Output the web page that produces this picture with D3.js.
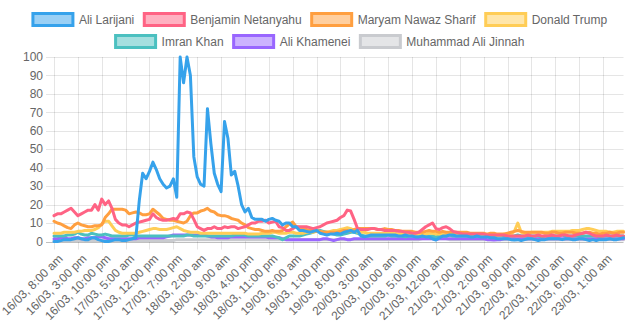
<!DOCTYPE html>
<html><head><meta charset="utf-8">
<script src="https://cdn.jsdelivr.net/npm/d3@7"></script>
<style>html,body{margin:0;padding:0;background:#fff}svg{display:block}</style>
</head><body><div id="chart"></div>
<script>
const seriesNames = ["Ali Larijani","Benjamin Netanyahu","Maryam Nawaz Sharif","Donald Trump","Imran Khan","Ali Khamenei","Muhammad Ali Jinnah"];
const seriesColors = ["rgb(54,162,235)","rgb(255,99,132)","rgb(255,159,64)","rgb(255,205,86)","rgb(75,192,192)","rgb(153,102,255)","rgb(201,203,207)"];
const seriesFills = ["rgba(54,162,235,0.5)","rgba(255,99,132,0.5)","rgba(255,159,64,0.5)","rgba(255,205,86,0.5)","rgba(75,192,192,0.5)","rgba(153,102,255,0.5)","rgba(201,203,207,0.5)"];

const tickLabels = ["16/03, 8:00 am","16/03, 3:00 pm","16/03, 10:00 pm","17/03, 5:00 am","17/03, 12:00 pm","17/03, 7:00 pm","18/03, 2:00 am","18/03, 9:00 am","18/03, 4:00 pm","18/03, 11:00 pm","19/03, 6:00 am","19/03, 1:00 pm","19/03, 8:00 pm","20/03, 3:00 am","20/03, 10:00 am","20/03, 5:00 pm","21/03, 12:00 am","21/03, 7:00 am","21/03, 2:00 pm","21/03, 9:00 pm","22/03, 4:00 am","22/03, 11:00 am","22/03, 6:00 pm","23/03, 1:00 am"];
const yTicks = [0,10,20,30,40,50,60,70,80,90,100];

const larijani = [
0,0,0.5,1,1,1,1.5,2,1.5,1,1,2,
2,1,0.5,0,0,0.5,1,1,0.5,0.5,1,1.5,
2,22,37,34,38,43,39,34,31,29,30,34,
24,100,86,100,90,46,35,31,30,72,53,37,
31,27,65,56,36,38,30,20,16,18,13,12,
12,12,11,12,12.5,11.5,11,9,10,10,8,8,
6,6,5.5,5,5.5,6,4.5,4,3.5,4,4,4.5,
4,5,5.5,6,5,6,3,2.5,3,3.5,3.5,3.5,
3.5,3.5,3.5,3.5,3.5,3,3,3.5,3,3,2.5,2.5,
3,2.5,2.5,1.5,0.8,2,3,3,3.5,3.5,3,3,
3,3,2.5,2.5,3,2.5,2.5,2.5,2,2,1.5,1.5,
1.5,1.5,1,0.8,1,0.5,1,1.5,1.5,1,0.5,1,
1,1.5,1.5,1.5,1.5,1,1.5,1.5,1,1,1.5,1.5,
1,0.5,1,0.5,1,1,1,1.5,1,1,1.5,2];

const netanyahu = [
14,15,15,16,17,18,16,14,15,16,17,17,
20,17,23,20,22,18,12,10,9,9,8,9,
10,10.5,11,11.5,12,15,13,12,11.5,11.5,12,12.5,
12,15,15,16,15.5,12,8,7,6,7,7,8,
7,7,8,7.5,8,8,7,7.5,8,9,10,10,
11,11,11.5,10,10.5,11,8,7.5,6,6,7,8,
8,8,8,7.5,7,7.5,8,9,10,10.5,11,11.5,
13,14,17,16.5,12,7,6.5,6.5,6.5,7,7,6.5,
6.5,6,6,6,6,5.5,5.5,5,5,4.5,4.5,5,
6.5,8,9,10,7,6.5,7.5,8,7,5.5,5,4.5,
4,4,4,4,4,4,4,3.5,3.5,3.5,3.5,3.5,
3.5,3,3,3,3,3,3,3.5,3,3,3.5,3,
3,3,3.5,3,3,3.5,3.5,3,3,3.5,4,4.5,
5,4.5,3.5,3,3,3,3.5,3,3,3.5,3,3];

const sharif = [
11,10,9.5,8.5,7.5,7,9,10,9,8.5,8,8,
8.5,8.5,9,13,15,17.5,17.5,17.5,17.5,17,15,15.5,
16,15.5,14.5,14.5,15,17.5,16,14.5,12.5,12,11.5,11.5,
11,10.5,10,11,14,15.5,15.5,16.5,17,18,16.5,16,
14.5,14,14,13.5,12.5,12,11.5,10,9,7.5,7,6.5,
6.5,6,5.5,5.5,6,5.5,5.5,6,8,9.5,10.5,8,
7.5,7,6.5,6,6,5.5,5.5,5,5,5,5,5,
5.5,6,6,5.5,6.5,7,7,7,7,7,7,6.5,
6.5,7,6.5,6.5,6,6,5.5,5.5,5.5,5.5,5,5,
5,5.5,6,5.5,5.5,5,5.5,5,5,5,5,5,
5,5,4.5,4.5,4.5,4.5,4.5,4,4.5,4.5,4,4,
4,4.5,5,5.5,6,5.5,5,5,5,5,5,5,
4.5,4.5,5,5,4.5,4.5,5,5,5,4.5,4.5,4.5,
5,5,4.5,4.5,4,4.5,4.5,5,4.5,4.5,5,5];

const trump = [
4.5,4.5,4.5,5,5,5,5,5.5,5.5,6,6,6,
6.5,7.5,9.5,11,11,8.5,6,5,4.5,4.5,4.5,4.5,
4.5,5,5.5,6,6.5,7,7,6.5,6.5,6.5,7,7.5,
8,7,6,5.5,5,5,5,4.5,4.5,4.5,4.5,4.5,
4.5,4.5,4.5,4.5,4.5,4.5,4.5,4.5,4.5,4,4,4,
4,4.5,4.5,4.5,5,5,4.5,4.5,4.5,5,5,4.5,
4.5,4.5,5,5,5,5.5,5.5,5,5,5.5,6,6,
6.5,7,7.5,7,6,5,5,5,4.5,4.5,4.5,4.5,
4.5,4.5,4.5,4.5,4.5,4,4,4,4,4,4,4,
4,4,4.5,4.5,4,4,4,4,4,4,4,4,
4,4,4,4,4,4,3.5,3.5,3.5,3.5,3.5,3.5,
4,4,4,5.5,10,5,4.5,4.5,5,5,5,5,
5,5,5.5,5.5,5.5,5.5,5.5,5.5,6,6,6,6.5,
7,7,6.5,6,5.5,5.5,5.5,5,5,5.5,5.5,5.5];

const khan = [
3,3,3,3,3.5,3.5,4,5,4,3.5,3.5,4.5,
4,3.5,3.5,4,3.5,3,3,3,3,3,3.5,3.5,
3,3,3,3,3,3,3,3,3,3,3,3,
3,3,3,3.5,3.5,3,3,3,3,3,3,3,
3,3,3,3,3,3.5,3.5,3.5,3.5,3,3,3,
3,3,3,3,3,2.5,2,1,2,3,3,3,
3,3.5,4,4.5,5,6,6,5.5,5,4.5,4,3.5,
3.5,4,4.5,5,5,4.5,3.5,3,3,3,3,3,
3,3,3.5,3,3,3,3,2.5,3,3,3,3,
3,3,3,3,2.5,3,3,3,3.5,3,3,3,
3,3,3,2.5,3,3,3,3,2.5,2.5,3,3,
3,3,3,3,3.5,3,3,3,3,3,3,2.5,
3,3,3,3,3,3.5,3,3,3,3,3,3,
3,3,3,3,2.5,3,3,3,3,3,3,3];

const khamenei = [
1.5,1.5,2,2,1.5,1.5,2,2,1.5,1.5,2,2,
2,2.5,2.5,2,1.5,1.5,1.5,1.5,1.5,1.5,1.5,1.5,
1.5,2,2,2,2,2,2,2,2,2.5,3,3.5,
3.5,3.5,3.5,3.5,3.5,3.5,3.5,3.5,3.5,3,2.5,2.5,
2,2,2,2,2.5,2.5,2.5,2.5,2.5,2.5,2.5,2.5,
2.5,2.5,2.5,2,2,2,2,1.5,1,1,1,1,
1,1,1,1,1,1,1,1.5,1.5,1,0.5,1,
1.5,1.5,1,1,1.5,1.5,1.5,1.5,1.5,1.5,1.5,1.5,
1.5,1.5,1.5,1.5,1.5,1.5,1.5,1.5,1.5,1.5,1.5,1.5,
1.5,1.5,1.5,1.5,1,1.5,1.5,1.5,1.5,1.5,1.5,1.5,
1.5,1.5,1.5,1.5,1.5,1.5,1.5,1,1,0.8,1,1,
1.5,1.5,1.5,1.5,1.5,1.5,1.5,1.5,1.5,1.5,1.5,1.5,
1.5,1.5,1.5,1.5,1.5,1.5,1.5,1.5,1.5,1.5,1.5,1.5,
1.5,1.5,1.5,1.5,1.5,1.5,1.5,1.5,1.5,1.5,1.5,1.5];

const jinnah = [
0.5,0.5,0.5,0.5,0.5,0.5,0.5,0.5,0.5,0.5,0.5,0.5,
0.5,0.5,0.5,0.5,0.5,0.5,0.5,0.5,0.5,0.5,0.5,0.5,
0.5,0.5,0.5,0.5,0.5,0.5,0.5,0.5,0.5,0.5,0.5,0.5,
1,1,1,1,1,1,1,1,1,1,1,1,
1,1,1,1,1,1,1,1,1,1,1,1,
1,1,1,1,1,1,1,1,1,1,1,1,
1,1,1,1,1,1,1,1,1,1,1,1,
1,1,1,1,1,1,1,1,1,1,1,1,
1,1,1,1,1,1,1,1,1,1,1,1,
1.5,1.5,1.5,1.5,1.5,1.5,1.5,1.5,1,1,1,1,
1,1,1,1,1,1,1,1,1,1,1,1,
1,1,1,1,1,1,1,1,1,1,1,1,
1,1,1,1,1,1,1,1,1,1,1,1,
1,1,1,1,1,1,1,1,1,1,1,1];

const seriesValues = [larijani, netanyahu, sharif, trump, khan, khamenei, jinnah];
const categories = d3.range(larijani.length);
const tickEvery = 7;

const W = 640, H = 335;
const plot = {left: 54, right: 623.5, top: 57, bottom: 241.5};
const font = "'Liberation Sans', Arial, Helvetica, sans-serif";
const textColor = "#666";

const svg = d3.select("#chart").append("svg").attr("width", W).attr("height", H)
  .style("font-family", font).style("font-size", "12px");

const x = d3.scalePoint().domain(categories).range([plot.left, plot.right]);
const y = d3.scaleLinear().domain([0, 100]).range([plot.bottom, plot.top]);

// Y grid + labels
const gy = svg.append("g");
yTicks.forEach(t => {
  gy.append("line").attr("x1", plot.left - 8).attr("x2", plot.right)
    .attr("y1", Math.round(y(t)) + 0.5).attr("y2", Math.round(y(t)) + 0.5)
    .attr("stroke", t === 0 ? "rgba(0,0,0,0.25)" : "rgba(0,0,0,0.1)").attr("stroke-width", 1);
  gy.append("text").attr("x", plot.left - 11).attr("y", y(t)).attr("dy", "0.35em")
    .attr("text-anchor", "end").attr("fill", textColor).text(t);
});

// X grid + labels
const xTickCats = categories.filter(c => c % tickEvery === 0);
const gx = svg.append("g");
xTickCats.forEach((c, k) => {
  const px = Math.round(x(c)) + 0.5;
  gx.append("line").attr("x1", px).attr("x2", px).attr("y1", plot.top).attr("y2", plot.bottom + 8)
    .attr("stroke", "rgba(0,0,0,0.1)").attr("stroke-width", 1);
  gx.append("text").attr("transform", `translate(${x(c) + 6.5},${plot.bottom + 15}) rotate(-45)`)
    .attr("text-anchor", "end").attr("dy", "0.35em").attr("fill", textColor).text(tickLabels[k]);
});

// Lines (draw last dataset first so the first is on top)
const line = d3.line().x((d, i) => x(categories[i])).y(d => y(d));
for (let s = seriesValues.length - 1; s >= 0; s--) {
  svg.append("path").datum(seriesValues[s]).attr("d", line)
    .attr("fill", "none").attr("stroke", seriesColors[s]).attr("stroke-width", 3)
    .attr("stroke-linejoin", "round").attr("stroke-linecap", "round");
}

// Legend
const rows = [[0,1,2,3],[4,5,6]];
const rowY = [13.5, 35.5];
const boxW = 40, boxH = 12, pad = 10, fs = 12;
const measure = svg.append("text").style("font-size", "12px").attr("visibility", "hidden");
function tw(s) { measure.text(s); return measure.node().getComputedTextLength(); }
const lg = svg.append("g");
rows.forEach((row, r) => {
  const widths = row.map(i => boxW + fs / 2 + tw(seriesNames[i]));
  const total = d3.sum(widths) + pad * (row.length - 1);
  let cx = (W - total) / 2;
  row.forEach((i, k) => {
    lg.append("rect").attr("x", cx).attr("y", rowY[r]).attr("width", boxW).attr("height", boxH)
      .attr("fill", seriesFills[i]).attr("stroke", seriesColors[i]).attr("stroke-width", 3);
    lg.append("text").attr("x", cx + boxW + fs / 2).attr("y", rowY[r] + boxH / 2).attr("dy", "0.35em")
      .attr("fill", textColor).text(seriesNames[i]);
    cx += widths[k] + pad;
  });
});
measure.remove();
</script></body></html>
